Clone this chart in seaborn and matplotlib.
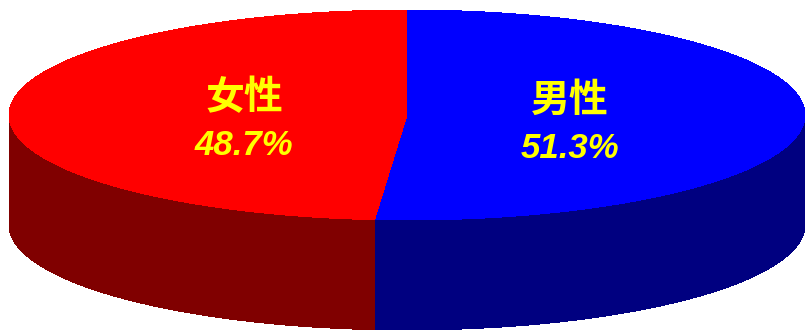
import numpy as np
import matplotlib
matplotlib.use("Agg")
import matplotlib.pyplot as plt
import seaborn as sns
from matplotlib.patches import Polygon

# Sex ratio, drawn clockwise from 12 o'clock
labels = ["男性", "女性"]
shares = [51.3, 48.7]
top_colors = ["#0000FF", "#FF0000"]
side_colors = ["#000080", "#800000"]

sns.set_theme(style="white")
plt.rcParams["font.family"] = ["Noto Sans CJK SC", "DejaVu Sans"]

W, H = 806, 330
fig = plt.figure(figsize=(W / 100, H / 100), dpi=100)
ax = fig.add_axes([0, 0, 1, 1])
ax.set_xlim(0, W)
ax.set_ylim(H, 0)
ax.axis("off")

# Ellipse geometry of the top face and the thickness of the disc
cx, cy, rx, ry, depth = 407, 115, 398, 105, 110


def rim(a0, a1, n=200):
    t = np.radians(np.linspace(a0, a1, n))
    return cx + rx * np.sin(t), cy - ry * np.cos(t)


total = sum(shares)
bounds = np.concatenate([[0], np.cumsum(shares) / total * 360])

# Visible side walls (front half: 90..270 degrees)
for i in range(len(shares)):
    a0, a1 = max(bounds[i], 90), min(bounds[i + 1], 270)
    if a1 <= a0:
        continue
    xs, ys = rim(a0, a1)
    pts = np.column_stack([np.concatenate([xs, xs[::-1]]),
                           np.concatenate([ys, ys[::-1] + depth])])
    ax.add_patch(Polygon(pts, closed=True, facecolor=side_colors[i],
                         edgecolor="none", antialiased=False))

# Top faces
for i in range(len(shares)):
    xs, ys = rim(bounds[i], bounds[i + 1])
    pts = np.column_stack([np.concatenate([[cx], xs]), np.concatenate([[cy], ys])])
    ax.add_patch(Polygon(pts, closed=True, facecolor=top_colors[i],
                         edgecolor="none", antialiased=False))

# Labels: category name above its share
for i, (lab, v) in enumerate(zip(labels, shares)):
    mid = np.radians((bounds[i] + bounds[i + 1]) / 2)
    lx = cx + 0.41 * rx * np.sin(mid)
    ly = cy - 0.41 * ry * np.cos(mid) + 8
    ax.text(lx, ly - 24, lab, ha="center", va="center", color="#FFFF00",
            fontsize=28, fontweight="bold",
            family=["Noto Sans CJK SC", "DejaVu Sans"])
    ax.text(lx, ly + 24, f"{v:.1f}%", ha="center", va="center", color="#FFFF00",
            fontsize=25, fontweight="bold", fontstyle="italic",
            family=["Liberation Sans Narrow", "Liberation Sans", "DejaVu Sans"])

fig.savefig("out.png", dpi=100)
